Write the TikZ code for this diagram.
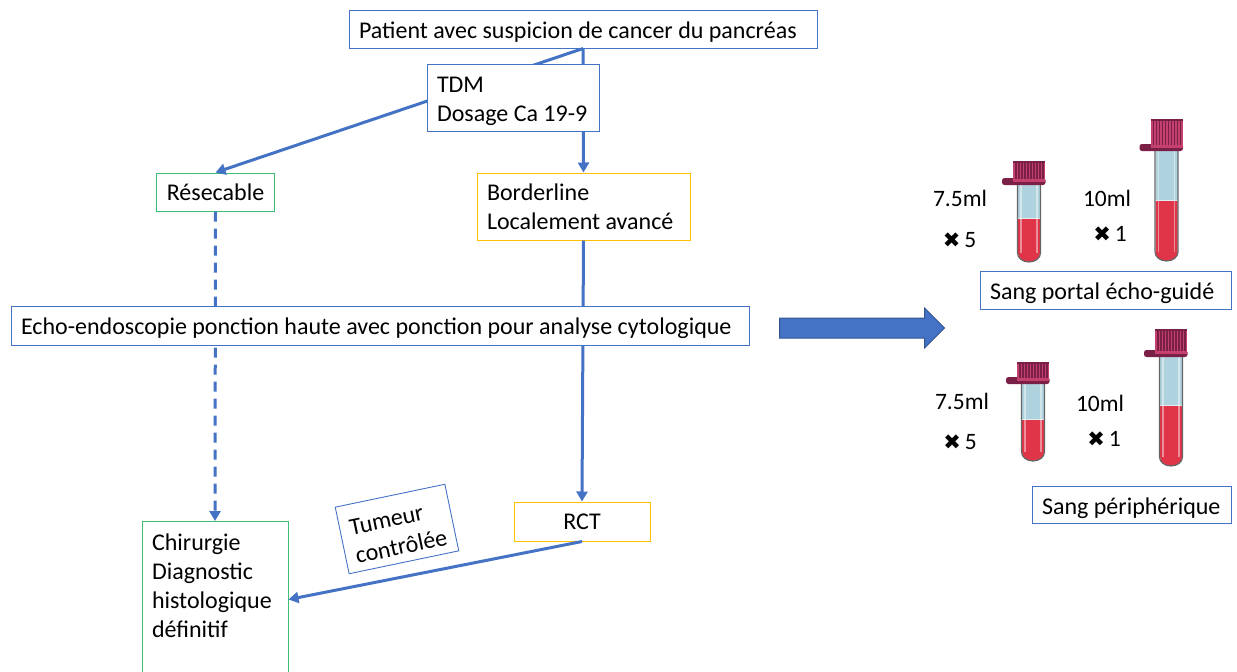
\documentclass[tikz,border=0pt]{standalone}
\usepackage{fontspec}
\setmainfont{Carlito}
\newfontfamily\symbfont{DejaVu Sans}
\usetikzlibrary{arrows.meta}
\usetikzlibrary{shapes.arrows}
\definecolor{boxblue}{HTML}{4472C4}
\definecolor{boxgreen}{HTML}{3DBE75}
\definecolor{boxyellow}{HTML}{FFC000}
\definecolor{capred}{HTML}{C4406F}
\definecolor{capdark}{HTML}{7A1F45}
\definecolor{serum}{HTML}{AFD3DE}
\definecolor{blood}{HTML}{E03448}
\tikzstyle{box} = [
    rectangle,
    draw=boxblue,
    fill=white,
    line width=1pt,
    align=flush left,
    inner xsep=10pt,
    inner ysep=0pt,
    font=\fontsize{24}{29}\selectfont
]
\tikzstyle{blue_box} = [box, draw=boxblue]
\tikzstyle{green_box} = [box, draw=boxgreen]
\tikzstyle{yellow_box} = [box, draw=boxyellow]
\tikzstyle{label} = [
    inner sep=0pt,
    font=\fontsize{23.5}{29}\selectfont
]
\tikzstyle{link} = [
    draw=boxblue,
    line width=3pt,
    -{Triangle[length=10pt, width=11pt]}
]
\newcommand{\cross}{{\symbfont\fontsize{21}{21}\selectfont ✖}}
\newcommand{\lowtext}{\rule{0pt}{23pt}}
\tikzset{
    pics/tube/.style n args={3}{code={
        % origin is the bottom of the glass, #1 its height, #2 the blood level, #3 the cap
        \fill [serum] (-11,-#1) rectangle (11,-#2);
        \fill [blood] (-11,-#2) -- (11,-#2) -- (11,-9)
            arc (0:180:11 and 9) -- cycle;
        \fill [white, opacity=.6] (-11,-#2-1) rectangle (11,-#2);
        \draw [white, opacity=.45, line width=1.2pt] (-8,-#1) -- (-8,-9);
        \draw [white, opacity=.45, line width=1.2pt] (8,-#1) -- (8,-9);
        \draw [gray!80!black, line width=1.2pt] (-11.5,-#1) -- (-11.5,-9)
            arc (180:0:11.5 and 9) -- (11.5,-#1);
        \fill [capdark, rounded corners=2.5pt] (-27,-#1-6) rectangle (16.5,-#1+1);
        \fill [capred] (-16,-#1-2-#3) rectangle (16,-#1-2);
        \foreach \s in {-13,-10,...,14}
            \draw [capdark, line width=1.1pt] (\s,-#1-#3) -- (\s,-#1-5);
        \draw [capdark, line width=1.4pt] (-16,-#1-1-#3) -- (16,-#1-1-#3);
    }}
}
\begin{document}
\begin{tikzpicture}[x=1pt, y=-1pt]
\useasboundingbox (0,0) rectangle (1237,672);
% boxes under the lines
\node [blue_box, text width=448pt, minimum height=38pt] (patient) at (583,29) {\lowtext Patient avec suspicion de cancer du pancréas};
\node [green_box, minimum width=117pt, minimum height=38pt, align=center] (resecable) at (215.5,192) {Résecable};
\node [yellow_box, text width=193pt, minimum height=67pt] (borderline) at (583.5,206.5) {Borderline\\Localement avancé};
\node [green_box, text width=126pt, minimum height=156pt, anchor=north] (chirurgie) at (215,521) {\rule{0pt}{26pt}Chirurgie\\Diagnostic\\histologique\\définitif\\\strut};
\node [yellow_box, minimum width=136pt, minimum height=39pt, align=center] (rct) at (582,521.5) {RCT};
% lines
\draw [link] (patient.south) -- (resecable.north);
\draw [link] (patient.south) -- (borderline.north);
\draw [link, dash pattern=on 10pt off 7pt] (resecable.south) -- (chirurgie.north);
\draw [link] (borderline.south) -- (rct.north);
\draw [link] (rct.south) -- (chirurgie.east);
% boxes over the lines
\node [blue_box, text width=152pt, minimum height=67pt] (tdm) at (513,97.5) {\lowtext TDM\\Dosage Ca 19-9};
\node [blue_box, text width=718pt, minimum height=39pt] (echo) at (380,325.5) {\lowtext Echo-endoscopie ponction haute avec ponction pour analyse cytologique};
\node [blue_box, line width=.9pt, rotate=11.8, text width=92pt, minimum height=68pt] (tumeur) at (397,529) {\lowtext Tumeur\\contrôlée};
\node [single arrow, fill=boxblue, draw=boxblue!75!black, line width=1pt, minimum height=165pt, single arrow head extend=10pt, single arrow head indent=0pt, inner sep=9.5pt] (bigarrow) at (857,328) {};
% tubes
\pic at (1029,262) {tube={78}{43}{21}};
\pic at (1166.5,261) {tube={111}{60}{29}};
\pic at (1033,461) {tube={78}{41}{19}};
\pic at (1171,466) {tube={110}{60}{25}};
\node [label] (vola) at (960,198) {7.5ml};
\node [label] (volb) at (1107,198) {10ml};
\node [label] (cnta) at (959.5,240) {\cross\,5};
\node [label] (cntb) at (1110,234) {\cross\,1};
\node [blue_box, text width=231pt, minimum height=38pt] (portal) at (1105.5,290) {\lowtext Sang portal écho-guidé};
\node [label] (volc) at (962,401) {7.5ml};
\node [label] (vold) at (1100,403) {10ml};
\node [label] (cntc) at (960,442) {\cross\,5};
\node [label] (cntd) at (1104,439) {\cross\,1};
\node [blue_box, text width=179pt, minimum height=37pt] (peripherique) at (1131.5,505) {\lowtext Sang périphérique};
\end{tikzpicture}
\end{document}
